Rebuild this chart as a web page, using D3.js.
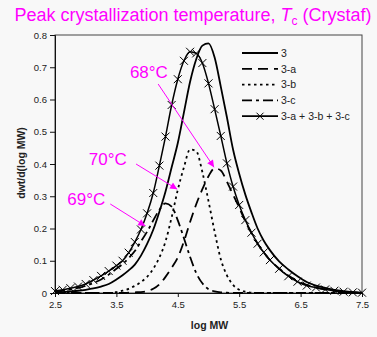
<!DOCTYPE html>
<html>
<head>
<meta charset="utf-8">
<script src="https://cdn.jsdelivr.net/npm/d3@7"></script>
<style>
  html, body { margin: 0; padding: 0; background: #f8f8f8; }
  svg { display: block; font-family: Arial, "Liberation Sans", sans-serif; }
</style>
</head>
<body>
<svg id="chart" width="377" height="337"></svg>
<script>
// log MW grid shared by every series
const logMW = [2.5, 2.625, 2.75, 2.875, 3.0, 3.125, 3.25, 3.375, 3.5, 3.6, 3.7, 3.8, 3.9, 4.0, 4.1, 4.2,
  4.3, 4.4, 4.5, 4.6, 4.7, 4.8, 4.9, 5.0, 5.1, 5.2, 5.3, 5.4, 5.5, 5.6, 5.7, 5.8, 5.9, 6.0,
  6.15, 6.3, 6.45, 6.6, 6.75, 6.9, 7.05, 7.2, 7.35, 7.5];

const s3 = [0.002, 0.003, 0.005, 0.007, 0.01, 0.014, 0.02, 0.028, 0.042, 0.055, 0.07, 0.088, 0.116, 0.152, 0.196, 0.252,
  0.315, 0.39, 0.465, 0.56, 0.655, 0.725, 0.767, 0.774, 0.73, 0.64, 0.545, 0.445, 0.37, 0.305, 0.25, 0.2, 0.162, 0.133,
  0.098, 0.073, 0.052, 0.034, 0.023, 0.016, 0.01, 0.006, 0.003, 0.001];

const s3a = [0, 0, 0, 0, 0, 0, 0, 0, 0, 0, 0.001, 0.002, 0.003, 0.006, 0.013, 0.027,
  0.05, 0.078, 0.11, 0.16, 0.22, 0.275, 0.322, 0.362, 0.387, 0.38, 0.345, 0.305, 0.265, 0.222, 0.186, 0.153, 0.126, 0.102,
  0.076, 0.054, 0.037, 0.025, 0.017, 0.011, 0.007, 0.004, 0.002, 0.001];

const s3b = [0, 0, 0, 0, 0, 0, 0, 0, 0.003, 0.007, 0.013, 0.022, 0.034, 0.05, 0.075, 0.11,
  0.16, 0.235, 0.32, 0.39, 0.445, 0.44, 0.375, 0.285, 0.19, 0.105, 0.055, 0.025, 0.01, 0.004, 0.001, 0, 0, 0,
  0, 0, 0, 0, 0, 0, 0, 0, 0, 0];

const s3c = [0.004, 0.007, 0.011, 0.016, 0.022, 0.031, 0.042, 0.057, 0.075, 0.09, 0.108, 0.13, 0.16, 0.19, 0.225, 0.258,
  0.278, 0.268, 0.225, 0.17, 0.112, 0.062, 0.03, 0.012, 0.005, 0.002, 0.001, 0, 0, 0, 0, 0, 0, 0,
  0, 0, 0, 0, 0, 0, 0, 0, 0, 0];

const sSum = [0.006, 0.01, 0.015, 0.02, 0.028, 0.04, 0.053, 0.068, 0.085, 0.1, 0.125, 0.158, 0.197, 0.247, 0.31, 0.395,
  0.485, 0.583, 0.663, 0.72, 0.748, 0.743, 0.713, 0.65, 0.57, 0.487, 0.402, 0.33, 0.273, 0.226, 0.187, 0.153, 0.126, 0.102,
  0.075, 0.052, 0.035, 0.023, 0.017, 0.011, 0.007, 0.004, 0.002, 0.001];

const xTicks = [2.5, 3.5, 4.5, 5.5, 6.5, 7.5];
const yTicks = [0, 0.1, 0.2, 0.3, 0.4, 0.5, 0.6, 0.7, 0.8];

const seriesNames = ['3', '3-a', '3-b', '3-c', '3-a + 3-b + 3-c'];

// peak temperature labels: text anchor and arrow tail/tip in data units
const tempLabels = ['68°C', '70°C', '69°C'];
const labelX = [3.72, 3.05, 2.70];
const labelY = [0.667, 0.397, 0.273];
const arrowFromX = [4.18, 3.82, 3.40];
const arrowFromY = [0.648, 0.400, 0.276];
const arrowToX = [5.09, 4.49, 3.97];
const arrowToY = [0.390, 0.322, 0.208];

const margin = { top: 35, right: 15, bottom: 44, left: 55 };
const width = 377 - margin.left - margin.right;
const height = 337 - margin.top - margin.bottom;
const magenta = '#ff00ff';

const svg = d3.select('#chart');

const x = d3.scaleLinear().domain([2.5, 7.5]).range([0, width]);
const y = d3.scaleLinear().domain([0, 0.8]).range([height, 0]);

// title
const title = svg.append('text')
  .attr('x', 193).attr('y', 21)
  .attr('text-anchor', 'middle')
  .attr('fill', magenta)
  .style('font-size', '18px');
title.append('tspan').text('Peak crystallization temperature, ');
title.append('tspan').style('font-style', 'italic').text('T');
title.append('tspan').attr('dy', 4).style('font-size', '12px').text('c');
title.append('tspan').attr('dy', -4).text(' (Crystaf)');

const g = svg.append('g').attr('transform', `translate(${margin.left},${margin.top})`);

// frame
g.append('rect')
  .attr('width', width).attr('height', height)
  .attr('fill', 'none').attr('stroke', '#444').attr('stroke-width', 1);

const xAxis = g.append('g')
  .attr('transform', `translate(0,${height})`)
  .call(d3.axisBottom(x).tickValues(xTicks).tickSize(4).tickPadding(4).tickFormat(d3.format('.1f')));
const yAxis = g.append('g')
  .call(d3.axisLeft(y).tickValues(yTicks).tickSize(5).tickPadding(3)
    .tickFormat(d => d === 0 ? '0' : d3.format('.1f')(d)));

[xAxis, yAxis].forEach(a => {
  a.select('.domain').attr('stroke', '#111');
  a.selectAll('.tick line').attr('stroke', '#111');
  a.selectAll('.tick text').attr('fill', '#222').style('font-size', '9.5px')
    .style('font-family', 'Arial, "Liberation Sans", sans-serif');
});

g.append('text')
  .attr('x', width / 2 + 1).attr('y', height + 36)
  .attr('text-anchor', 'middle')
  .style('font-size', '10.5px').style('font-weight', 'bold').attr('fill', '#222')
  .text('log MW');

g.append('text')
  .attr('transform', `translate(-30,${height / 2 - 1}) rotate(-90)`)
  .attr('text-anchor', 'middle')
  .style('font-size', '10.5px').style('font-weight', 'bold').attr('fill', '#222')
  .text('dwt/d(log MW)');

const styles = [
  { dash: null, w: 1.8 },
  { dash: '10,6', w: 1.8 },
  { dash: '2.5,3.5', w: 1.8 },
  { dash: '10,4,3,4', w: 1.8 },
  { dash: null, w: 1.5 }
];
const seriesValues = [s3, s3a, s3b, s3c, sSum];

const line = d3.line()
  .x(d => x(d[0]))
  .y(d => y(d[1]))
  .curve(d3.curveMonotoneX);

seriesValues.forEach((vals, i) => {
  const pts = logMW.map((m, j) => [m, vals[j]]);
  g.append('path')
    .datum(pts)
    .attr('fill', 'none')
    .attr('stroke', '#000')
    .attr('stroke-width', styles[i].w)
    .attr('stroke-dasharray', styles[i].dash)
    .attr('d', line);
});

// X markers on the summed curve
const cross = 'M-4,-4L4,4M-4,4L4,-4';
g.selectAll('.mk')
  .data(logMW.map((m, j) => [m, sSum[j]]))
  .enter().append('path')
  .attr('class', 'mk')
  .attr('transform', d => `translate(${x(d[0])},${y(d[1])})`)
  .attr('d', cross)
  .attr('stroke', '#000').attr('stroke-width', 1).attr('fill', 'none');

// legend
const legend = g.append('g').attr('transform', `translate(${width - 120},18)`);
seriesNames.forEach((name, i) => {
  const row = legend.append('g').attr('transform', `translate(0,${i * 15.8})`);
  row.append('line')
    .attr('x1', 0).attr('x2', 36).attr('y1', 0).attr('y2', 0)
    .attr('stroke', '#000').attr('stroke-width', 1.8)
    .attr('stroke-dasharray', styles[i].dash);
  if (i === 4) {
    row.append('path').attr('d', 'M-3.5,-3.5L3.5,3.5M-3.5,3.5L3.5,-3.5')
      .attr('transform', 'translate(18,0)')
      .attr('stroke', '#000').attr('stroke-width', 1).attr('fill', 'none');
  }
  row.append('text')
    .attr('x', 39).attr('y', 3.8)
    .style('font-size', '10.5px').attr('fill', '#222')
    .text(name);
});

// temperature annotations
const defs = svg.append('defs');
defs.append('marker')
  .attr('id', 'head')
  .attr('viewBox', '0 0 10 10')
  .attr('refX', 10).attr('refY', 5)
  .attr('markerWidth', 9).attr('markerHeight', 7)
  .attr('markerUnits', 'userSpaceOnUse')
  .attr('orient', 'auto')
  .append('path').attr('d', 'M0,0L10,5L0,10z').attr('fill', magenta);

tempLabels.forEach((t, i) => {
  g.append('text')
    .attr('x', x(labelX[i])).attr('y', y(labelY[i]))
    .attr('fill', magenta)
    .style('font-size', '17px')
    .text(t);
  g.append('line')
    .attr('x1', x(arrowFromX[i])).attr('y1', y(arrowFromY[i]))
    .attr('x2', x(arrowToX[i])).attr('y2', y(arrowToY[i]))
    .attr('stroke', magenta).attr('stroke-width', 1)
    .attr('marker-end', 'url(#head)');
});
</script>
</body>
</html>
